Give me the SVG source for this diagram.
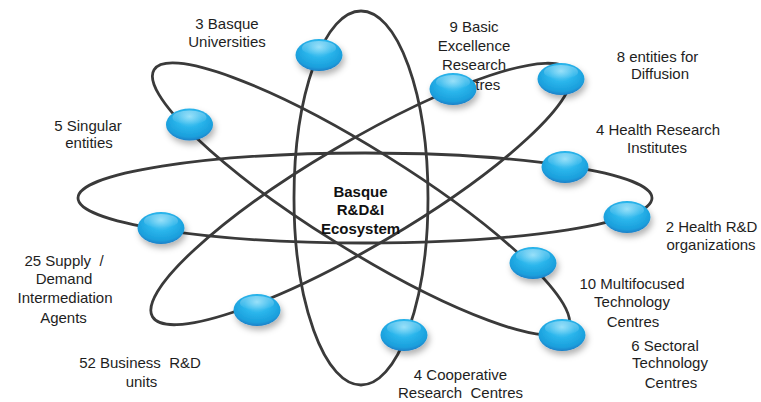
<svg xmlns="http://www.w3.org/2000/svg" width="761" height="402" viewBox="0 0 761 402">
  <style>
    .orbit { fill: none; stroke: #3a3a3a; stroke-width: 2.8; }
    .lbl { font-family: "Liberation Sans", Arial, sans-serif; font-size: 15px; fill: #1e1e1e; text-anchor: middle; }
    .ctr { font-family: "Liberation Sans", Arial, sans-serif; font-size: 15px; font-weight: bold; fill: #111; text-anchor: middle; }
    .ball { fill: url(#ballGrad); filter: url(#shadow); }
    .shine { fill: url(#shineGrad); }
  </style>
  <defs>
    <radialGradient id="ballGrad" cx="50%" cy="40%" r="60%" fx="50%" fy="25%">
      <stop offset="0" stop-color="#7fd9f8"/>
      <stop offset="0.45" stop-color="#2bb6ec"/>
      <stop offset="0.85" stop-color="#1a9fdc"/>
      <stop offset="1" stop-color="#1a7fc8"/>
    </radialGradient>
    <linearGradient id="shineGrad" x1="0" y1="0" x2="0" y2="1">
      <stop offset="0" stop-color="#ffffff" stop-opacity="0.35"/>
      <stop offset="1" stop-color="#ffffff" stop-opacity="0"/>
    </linearGradient>
    <filter id="shadow" x="-40%" y="-40%" width="180%" height="200%">
      <feDropShadow dx="2" dy="4" stdDeviation="3" flood-color="#000" flood-opacity="0.3"/>
    </filter>
  </defs>
  <rect width="761" height="402" fill="#ffffff"/>

  <g id="connectors">
    <ellipse class="orbit" cx="365" cy="198" rx="287" ry="45"/>
    <ellipse class="orbit" cx="361" cy="198" rx="67" ry="187"/>
    <ellipse class="orbit" cx="361" cy="199" rx="244" ry="50" transform="rotate(32 361 199)"/>
    <ellipse class="orbit" cx="361" cy="194" rx="242" ry="52" transform="rotate(-30.5 361 194)"/>
  </g>

  <g id="center">
    <text class="ctr" x="360.5" y="197">Basque</text>
    <text class="ctr" x="360.5" y="215">R&amp;D&amp;I</text>
    <text class="ctr" x="360.5" y="234">Ecosystem</text>
  </g>

  <g id="node-universities">
    <text class="lbl" x="227" y="29">3 Basque</text>
    <text class="lbl" x="227" y="47">Universities</text>
    <ellipse class="ball" cx="319" cy="55" rx="23.5" ry="16"/>
    <ellipse class="shine" cx="319" cy="48" rx="17" ry="7"/>
  </g>

  <g id="node-singular">
    <text class="lbl" x="88" y="131">5 Singular</text>
    <text class="lbl" x="89" y="148">entities</text>
    <ellipse class="ball" cx="189.5" cy="124.5" rx="23.5" ry="16"/>
    <ellipse class="shine" cx="189.5" cy="117.5" rx="17" ry="7"/>
  </g>

  <g id="node-basic">
    <text class="lbl" x="474" y="32">9 Basic</text>
    <text class="lbl" x="474" y="51">Excellence</text>
    <text class="lbl" x="474" y="70">Research</text>
    <text class="lbl" x="474" y="90">Centres</text>
    <ellipse class="ball" cx="453" cy="89" rx="23.5" ry="16"/>
    <ellipse class="shine" cx="453" cy="82" rx="17" ry="7"/>
  </g>

  <g id="node-diffusion">
    <text class="lbl" x="657.5" y="62">8 entities for</text>
    <text class="lbl" x="660" y="79">Diffusion</text>
    <ellipse class="ball" cx="561" cy="79" rx="23.5" ry="16"/>
    <ellipse class="shine" cx="561" cy="72" rx="17" ry="7"/>
  </g>

  <g id="node-health-research">
    <text class="lbl" x="658" y="135">4 Health Research</text>
    <text class="lbl" x="657" y="153">Institutes</text>
    <ellipse class="ball" cx="565" cy="167" rx="23.5" ry="16"/>
    <ellipse class="shine" cx="565" cy="160" rx="17" ry="7"/>
  </g>

  <g id="node-health-rd">
    <text class="lbl" x="711.5" y="232">2 Health R&amp;D</text>
    <text class="lbl" x="711" y="250">organizations</text>
    <ellipse class="ball" cx="627" cy="217" rx="23.5" ry="16"/>
    <ellipse class="shine" cx="627" cy="210" rx="17" ry="7"/>
  </g>

  <g id="node-multifocused">
    <text class="lbl" x="632" y="289">10 Multifocused</text>
    <text class="lbl" x="632" y="307">Technology</text>
    <text class="lbl" x="633" y="327">Centres</text>
    <ellipse class="ball" cx="533" cy="263" rx="23.5" ry="16"/>
    <ellipse class="shine" cx="533" cy="256" rx="17" ry="7"/>
  </g>

  <g id="node-sectoral">
    <text class="lbl" x="665" y="351">6 Sectoral</text>
    <text class="lbl" x="670" y="368">Technology</text>
    <text class="lbl" x="671" y="388">Centres</text>
    <ellipse class="ball" cx="562" cy="335" rx="23.5" ry="16"/>
    <ellipse class="shine" cx="562" cy="328" rx="17" ry="7"/>
  </g>

  <g id="node-cooperative">
    <text class="lbl" x="460.5" y="380">4 Cooperative</text>
    <text class="lbl" x="460.5" y="398" xml:space="preserve">Research  Centres</text>
    <ellipse class="ball" cx="404" cy="335" rx="23.5" ry="16"/>
    <ellipse class="shine" cx="404" cy="328" rx="17" ry="7"/>
  </g>

  <g id="node-business">
    <text class="lbl" x="140" y="368" xml:space="preserve">52 Business  R&amp;D</text>
    <text class="lbl" x="141.5" y="387">units</text>
    <ellipse class="ball" cx="257" cy="310" rx="23.5" ry="16"/>
    <ellipse class="shine" cx="257" cy="303" rx="17" ry="7"/>
  </g>

  <g id="node-intermediation">
    <text class="lbl" x="64" y="266" xml:space="preserve">25 Supply  /</text>
    <text class="lbl" x="64" y="284">Demand</text>
    <text class="lbl" x="65" y="303">Intermediation</text>
    <text class="lbl" x="63.5" y="323">Agents</text>
    <ellipse class="ball" cx="161" cy="228" rx="23.5" ry="16"/>
    <ellipse class="shine" cx="161" cy="221" rx="17" ry="7"/>
  </g>
</svg>
